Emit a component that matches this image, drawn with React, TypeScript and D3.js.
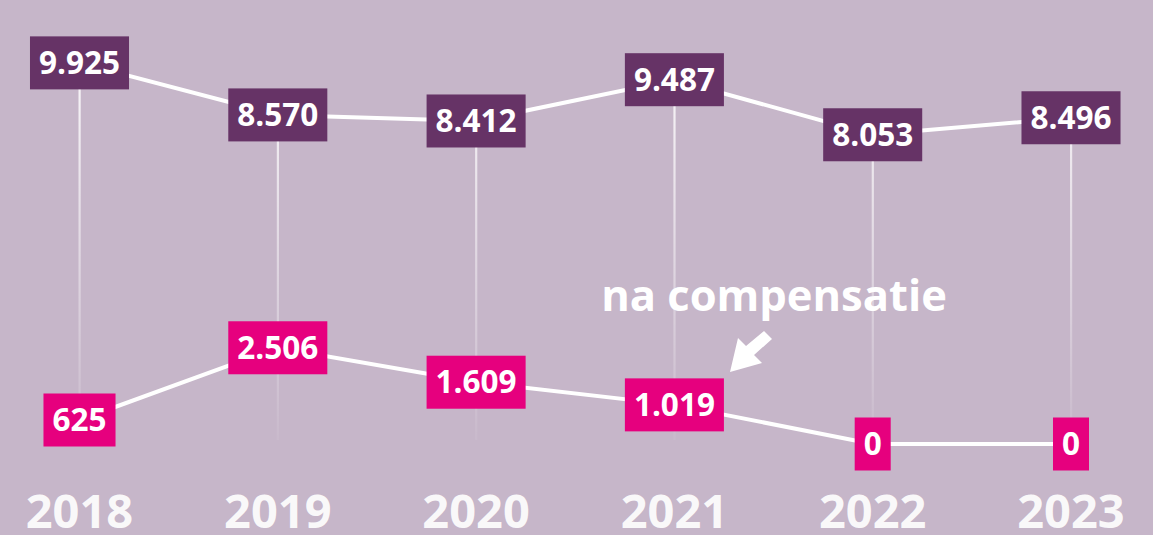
import * as d3 from 'd3';
import { useEffect, useRef } from 'react';

const years = ['2018', '2019', '2020', '2021', '2022', '2023'];
const topSeries = [9925, 8570, 8412, 9487, 8053, 8496];
const bottomSeries = [625, 2506, 1609, 1019, 0, 0];
const annotation = 'na compensatie';

const fmt = (v: number) => d3.format(',')(v).replace(/,/g, '.');

export default function App() {
  const svgRef = useRef<SVGSVGElement>(null);

  useEffect(() => {
    const svg = d3.select(svgRef.current);
    svg.selectAll('*').remove();

    const width = 1153;
    const height = 535;
    const font = "'Open Sans', sans-serif";

    svg.append('rect')
      .attr('width', width).attr('height', height)
      .attr('fill', '#c6b6c9');

    const x = d3.scalePoint<string>()
      .domain(years)
      .range([79.5, 1071]);

    const y = d3.scaleLinear()
      .domain([0, 10000])
      .range([444, 60]);

    // fading drop lines
    const grad = svg.append('defs').append('linearGradient')
      .attr('id', 'drop')
      .attr('gradientUnits', 'userSpaceOnUse')
      .attr('x1', 0).attr('x2', 0)
      .attr('y1', 60).attr('y2', 440);
    grad.append('stop').attr('offset', 0).attr('stop-color', '#fff').attr('stop-opacity', 0.9);
    grad.append('stop').attr('offset', 1).attr('stop-color', '#fff').attr('stop-opacity', 0.05);

    svg.append('g').selectAll('rect')
      .data(years)
      .join('rect')
      .attr('x', d => x(d)! - 1)
      .attr('width', 2.2)
      .attr('y', (d, i) => y(topSeries[i]))
      .attr('height', (d, i) => 440 - y(topSeries[i]))
      .attr('fill', 'url(#drop)');

    const line = d3.line<number>()
      .x((d, i) => x(years[i])!)
      .y(d => y(d));

    [topSeries, bottomSeries].forEach(s => {
      svg.append('path')
        .datum(s)
        .attr('fill', 'none')
        .attr('stroke', '#fff')
        .attr('stroke-width', 4)
        .attr('d', line);
    });

    const drawLabels = (s: number[], color: string) => {
      const g = svg.append('g');
      s.forEach((v, i) => {
        const cx = x(years[i])!;
        const cy = y(v);
        const t = g.append('text')
          .attr('x', cx).attr('y', cy + 11)
          .attr('text-anchor', 'middle')
          .attr('font-family', font)
          .attr('font-weight', 700)
          .attr('font-size', 31.5)
          .attr('fill', '#fff')
          .text(fmt(v));
        const w = (t.node() as SVGTextElement).getComputedTextLength();
        g.insert('rect', 'text')
          .attr('x', cx - w / 2 - 9)
          .attr('y', cy - 26.5)
          .attr('width', w + 18)
          .attr('height', 53)
          .attr('fill', color);
      });
    };
    drawLabels(topSeries, '#663366');
    drawLabels(bottomSeries, '#e6007e');

    // year labels
    svg.append('g').selectAll('text')
      .data(years)
      .join('text')
      .attr('x', d => x(d)!)
      .attr('y', 528)
      .attr('text-anchor', 'middle')
      .attr('font-family', font)
      .attr('font-weight', 700)
      .attr('font-size', 47)
      .attr('fill', '#fff')
      .attr('fill-opacity', 0.92)
      .text(d => d);

    // annotation + arrow
    svg.append('text')
      .attr('x', 774).attr('y', 311)
      .attr('text-anchor', 'middle')
      .attr('font-family', font)
      .attr('font-weight', 700)
      .attr('font-size', 43.5)
      .attr('fill', '#fff')
      .text(annotation);

    svg.append('polygon')
      .attr('points', '730,372 738,338 746,346 764,331 772,339 754,355 762,363')
      .attr('fill', '#fff');
  }, []);

  return (
    <div style={{ position: 'absolute', left: 0, top: 0 }}>
      <svg ref={svgRef} width={1153} height={535} style={{ display: 'block' }} />
    </div>
  );
}
